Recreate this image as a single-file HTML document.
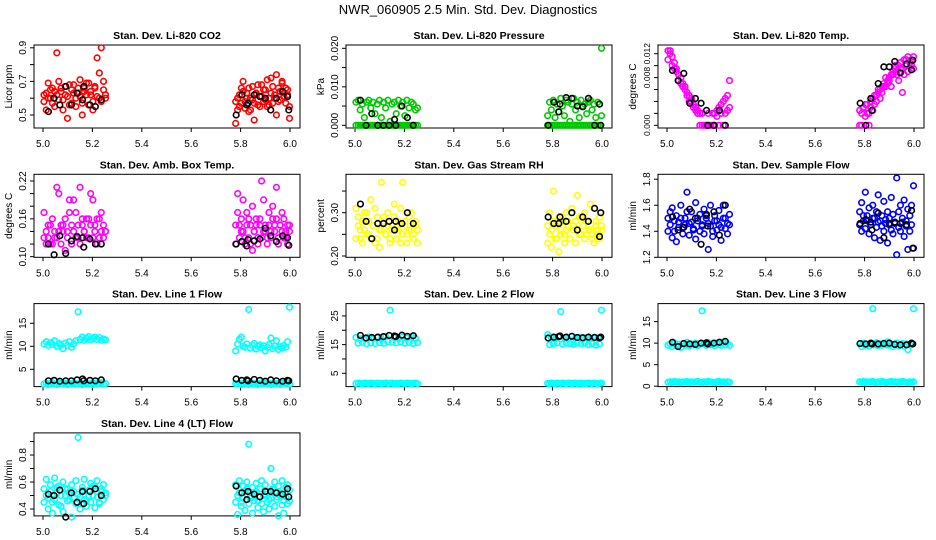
<!DOCTYPE html>
<html><head><meta charset="utf-8"><style>
html,body{margin:0;padding:0;background:#fff;}
svg{display:block;font-family:"Liberation Sans",sans-serif;}
</style></head><body>
<svg id="chart" width="936" height="540" viewBox="0 0 936 540">
<rect width="936" height="540" fill="#fff"/>
<text x="468" y="14" text-anchor="middle" font-size="13" fill="#000">NWR_060905  2.5 Min. Std. Dev. Diagnostics</text>
</svg>
<script>
// shared time axis (fractional hours) for colored series
const times = [5.004,5.013,5.021,5.030,5.038,5.047,5.056,5.064,5.073,5.081,5.090,5.099,5.107,5.116,5.124,5.133,5.142,5.150,5.159,5.167,5.176,5.185,5.193,5.202,5.210,5.219,5.228,5.236,5.245,5.253,
5.780,5.788,5.795,5.803,5.810,5.818,5.825,5.833,5.840,5.848,5.855,5.863,5.870,5.878,5.885,5.893,5.900,5.908,5.915,5.923,5.930,5.938,5.945,5.953,5.960,5.968,5.975,5.983,5.990,5.998];
const blackTimes = [5.022,5.045,5.068,5.092,5.115,5.138,5.160,5.165,5.190,5.212,5.236,
5.782,5.805,5.825,5.830,5.855,5.878,5.900,5.922,5.945,5.970,5.990,5.995];
const xTicks = [5.0,5.2,5.4,5.6,5.8,6.0];
const xTickLabels = ["5.0","5.2","5.4","5.6","5.8","6.0"];

const co2A = [0.58,0.63,0.69,0.60,0.66,0.55,0.62,0.70,0.64,0.59,0.67,0.61,0.56,0.65,0.68,0.60,0.63,0.71,0.57,0.66,0.62,0.69,0.64,0.58,0.67,0.84,0.60,0.90,0.65,0.62,
0.45,0.60,0.55,0.66,0.70,0.58,0.63,0.52,0.60,0.67,0.57,0.62,0.68,0.55,0.61,0.65,0.59,0.71,0.56,0.63,0.67,0.60,0.74,0.58,0.64,0.69,0.61,0.66,0.62,0.48];
const co2B = [0.62,0.53,0.60,0.65,0.57,0.64,0.87,0.59,0.66,0.53,0.62,0.48,0.68,0.57,0.63,0.55,0.66,0.61,0.50,0.64,0.69,0.56,0.62,0.53,0.66,0.61,0.75,0.58,0.70,0.60,
0.58,0.53,0.62,0.57,0.64,0.54,0.60,0.66,0.53,0.59,0.47,0.63,0.56,0.61,0.68,0.58,0.65,0.55,0.60,0.72,0.57,0.62,0.50,0.66,0.59,0.70,0.63,0.57,0.65,0.55];
const co2K = [0.52,0.60,0.56,0.67,0.56,0.63,0.59,0.67,0.56,0.55,0.59,0.50,0.62,0.56,0.57,0.62,0.61,0.60,0.53,0.60,0.64,0.61,0.53];

const presA = [0,0,0,0,0,0,0,0,0,0,0,0,0,0,0,0,0,0,0,0,0,0,0,0,0,0,0,0,0,0,
0,0,0,0,0,0,0,0,0,0,0,0,0,0,0,0,0,0,0,0,0,0,0,0,0,0,0,0,0,0.020];
const presB = [0.006,0.0065,0.004,0.0055,0.002,0.006,0.0065,0.0045,0.006,0.003,0.0055,0.0065,0.002,0.006,0.0045,0.0065,0.001,0.0055,0.006,0.003,0.0065,0.005,0.006,0.0025,0.0065,0.0045,0.006,0.0055,0.004,0.0045,
0.0025,0.006,0.004,0.0065,0.002,0.0055,0.0035,0.007,0.005,0.0025,0.0065,0.006,0.001,0.0055,0.007,0.004,0.006,0.002,0.0065,0.005,0.0055,0.003,0.006,0.0065,0.004,0.0055,0.002,0.006,0.0055,0.0025];
const presK = [0.0065,0,0.003,0,0,0,0.0015,0,0.005,0.002,0,0,0.006,0.0035,0.0055,0.0072,0.007,0.005,0.0048,0.007,0,0.0055,0];

const tempA = [0.0125,0.012,0.0115,0.0105,0.0095,0.0085,0.008,0.007,0.0065,0.0055,0.005,0.004,0.0035,0.003,0.0025,0.002,0,0,0,0,0,0,0.002,0.0025,0.003,0.0035,0.004,0.002,0.005,0.0075,
0,0.002,0.003,0.0035,0.002,0,0.004,0.0025,0.005,0.004,0.0055,0.006,0.0065,0.007,0.0065,0.0075,0.008,0.0085,0.009,0.0095,0.0085,0.010,0.0105,0.0095,0.011,0.010,0.0115,0.0105,0.011,0.0095];
const tempB = [0.011,0.0125,0.010,0.0095,0.009,0.0075,0.007,0.0065,0.006,0.005,0.004,0.0045,0.003,0.0025,0.002,0,0.002,0,0,0.002,0,0.002,0,0.0015,0,0.002,0,0.0045,0.0025,0.003,
0.0025,0,0.003,0.0015,0.0035,0.002,0.003,0.0045,0.0035,0.005,0.006,0.0045,0.0055,0.0065,0.008,0.007,0.0075,0.0065,0.0085,0.010,0.009,0.0075,0.0095,0.0055,0.0085,0.011,0.009,0.0105,0.010,0.0115];
const tempK = [0.0092,0.0075,0.0087,0.0037,0.0045,0.0037,0.0025,0,0,0.0025,0,0.0037,0,0.0045,0.0025,0.007,0.0098,0.0098,0.0107,0.0088,0.0103,0.0093,0.0109];

const ambA = [0.13,0.14,0.15,0.12,0.16,0.14,0.13,0.20,0.15,0.14,0.16,0.13,0.19,0.15,0.14,0.17,0.13,0.21,0.15,0.14,0.16,0.13,0.15,0.19,0.14,0.16,0.13,0.17,0.15,0.14,
0.12,0.17,0.15,0.14,0.19,0.13,0.15,0.16,0.12,0.18,0.14,0.15,0.13,0.16,0.22,0.14,0.15,0.13,0.17,0.14,0.16,0.15,0.21,0.13,0.15,0.14,0.16,0.13,0.15,0.14];
const ambB = [0.17,0.12,0.13,0.15,0.12,0.13,0.21,0.14,0.12,0.15,0.11,0.14,0.17,0.12,0.19,0.13,0.15,0.12,0.16,0.14,0.13,0.16,0.20,0.13,0.15,0.12,0.16,0.14,0.13,0.14,
0.15,0.20,0.13,0.16,0.14,0.12,0.17,0.13,0.15,0.11,0.14,0.16,0.12,0.15,0.13,0.19,0.14,0.12,0.15,0.13,0.18,0.14,0.16,0.12,0.15,0.17,0.13,0.14,0.12,0.15];
const ambK = [0.12,0.103,0.133,0.105,0.125,0.132,0.13,0.115,0.128,0.12,0.12,0.12,0.124,0.117,0.127,0.125,0.128,0.145,0.133,0.124,0.133,0.13,0.118];

const rhA = [0.31,0.27,0.24,0.28,0.26,0.30,0.25,0.33,0.27,0.23,0.29,0.26,0.37,0.28,0.25,0.30,0.24,0.27,0.32,0.26,0.28,0.23,0.37,0.27,0.25,0.29,0.26,0.24,0.28,0.26,
0.23,0.30,0.26,0.35,0.27,0.24,0.29,0.26,0.28,0.25,0.30,0.27,0.24,0.31,0.26,0.28,0.34,0.25,0.29,0.27,0.30,0.25,0.28,0.26,0.24,0.31,0.27,0.25,0.29,0.26];
const rhB = [0.24,0.29,0.26,0.23,0.30,0.25,0.28,0.24,0.27,0.31,0.24,0.22,0.26,0.29,0.25,0.27,0.23,0.26,0.29,0.24,0.26,0.31,0.25,0.28,0.23,0.26,0.30,0.25,0.27,0.23,
0.27,0.25,0.22,0.28,0.24,0.27,0.21,0.25,0.29,0.23,0.26,0.28,0.24,0.30,0.27,0.23,0.26,0.29,0.25,0.27,0.24,0.28,0.26,0.32,0.25,0.23,0.28,0.26,0.24,0.27];
const rhK = [0.32,0.28,0.24,0.275,0.275,0.28,0.26,0.28,0.275,0.30,0.275,0.29,0.275,0.275,0.29,0.28,0.30,0.26,0.29,0.28,0.31,0.245,0.30];

const sfA = [1.50,1.45,1.58,1.40,1.52,1.47,1.60,1.43,1.50,1.70,1.46,1.55,1.41,1.62,1.48,1.53,1.44,1.57,1.50,1.46,1.60,1.40,1.52,1.48,1.56,1.43,1.60,1.50,1.46,1.53,
1.55,1.62,1.48,1.70,1.52,1.58,1.45,1.60,1.50,1.55,1.68,1.48,1.52,1.63,1.46,1.55,1.50,1.66,1.53,1.47,1.81,1.55,1.60,1.50,1.64,1.48,1.57,1.52,1.60,1.75];
const sfB = [1.40,1.55,1.35,1.48,1.32,1.43,1.50,1.38,1.45,1.55,1.37,1.47,1.42,1.34,1.50,1.40,1.45,1.38,1.52,1.26,1.44,1.36,1.48,1.41,1.45,1.33,1.50,1.42,1.38,1.45,
1.45,1.40,1.52,1.42,1.48,1.38,1.45,1.50,1.35,1.43,1.47,1.33,1.44,1.40,1.49,1.31,1.45,1.41,1.38,1.46,1.22,1.43,1.40,1.47,1.36,1.44,1.26,1.40,1.45,1.27];
const sfK = [1.51,1.41,1.43,1.57,1.50,1.30,1.53,1.44,1.55,1.37,1.60,1.46,1.49,1.47,1.41,1.54,1.35,1.46,1.47,1.46,1.45,1.56,1.27];

const l1A = [10.5,11.0,10.2,10.8,10.4,11.2,10.0,10.6,10.3,9.5,10.7,10.2,11.0,9.8,10.5,11.2,17.5,11.5,12.0,11.3,11.8,12.1,11.4,11.7,12.0,11.5,11.9,11.3,11.6,11.4,
9.0,10.5,11.5,12.0,10.0,9.8,10.5,18.0,9.6,10.2,10.6,9.4,10.0,10.3,9.7,10.1,9.0,9.8,10.4,11.8,9.5,10.0,11.2,9.3,9.9,9.6,10.2,9.8,11.0,18.5];
const l1B = [1.8,2.0,1.7,1.9,2.1,1.8,1.7,2.0,1.9,1.8,2.0,1.7,1.9,1.8,2.1,1.9,1.8,2.0,1.7,1.9,2.0,1.8,1.9,1.7,2.0,1.8,1.9,2.1,1.8,1.9,
1.9,1.8,2.0,1.7,1.9,2.1,1.8,1.7,2.0,1.9,1.8,2.0,1.7,1.9,1.8,2.1,1.9,1.8,2.0,1.7,1.9,2.0,1.8,1.9,1.7,2.0,1.8,1.9,2.1,1.8];
const l1K = [2.5,2.6,2.4,2.5,2.5,2.7,2.9,2.5,2.6,2.5,2.7,2.9,2.6,2.7,2.5,2.8,2.6,2.4,2.7,2.5,2.4,2.6,2.5];

const l2A = [17.5,15.5,17.0,15.8,17.2,15.3,17.6,15.6,17.1,15.4,17.4,15.7,17.0,15.5,17.8,16.0,27.0,15.8,17.5,15.6,17.2,15.9,17.7,15.5,17.3,15.8,17.6,15.4,17.2,15.7,
18.5,15.0,17.5,15.3,17.0,15.6,17.6,26.5,15.2,17.3,15.5,17.0,15.4,17.8,15.1,17.2,15.6,17.5,15.3,17.0,15.5,17.4,15.0,17.2,15.3,17.6,14.8,17.3,15.2,27.0];
const l2B = [1.4,1.6,1.5,1.3,1.6,1.5,1.4,1.6,1.5,1.3,1.6,1.5,1.4,1.5,1.6,1.4,1.5,1.6,1.3,1.5,1.4,1.6,1.5,1.4,1.6,1.5,1.3,1.5,1.6,1.4,
1.5,1.4,1.6,1.5,1.3,1.6,1.5,1.4,1.6,1.5,1.3,1.6,1.5,1.4,1.5,1.6,1.4,1.5,1.6,1.3,1.5,1.4,1.6,1.5,1.4,1.6,1.5,1.3,1.5,1.6];
const l2K = [18.2,17.3,17.5,17.6,17.8,18.2,18.0,17.8,18.3,17.9,18.1,17.3,17.6,17.8,18.0,17.6,17.9,17.5,17.4,17.6,17.5,17.3,17.6];

const l3A = [9.5,9.8,9.2,10.0,9.4,9.7,9.0,9.9,9.5,10.2,9.3,9.8,9.6,10.0,9.4,9.7,17.5,9.9,9.5,10.1,9.6,9.8,9.4,10.0,9.7,9.5,10.2,9.6,9.9,9.5,
9.8,9.2,10.0,9.5,9.7,9.3,9.9,18.0,9.6,10.1,9.4,9.8,9.5,10.0,9.6,10.3,9.5,9.8,9.2,9.7,10.0,9.4,9.6,9.9,9.3,9.8,8.5,9.6,9.9,18.0];
const l3B = [0.9,1.0,0.8,1.1,0.9,1.0,0.8,1.0,0.9,1.1,0.8,1.0,0.9,1.0,1.1,0.9,0.8,1.0,0.9,1.1,1.0,0.9,0.8,1.0,1.1,0.9,1.0,0.8,1.0,0.9,
1.0,0.9,1.1,0.8,1.0,0.9,1.0,1.1,0.9,0.8,1.0,0.9,1.1,1.0,0.8,0.9,1.0,1.1,0.9,1.0,0.8,1.0,0.9,1.1,1.0,0.9,0.8,1.0,0.9,1.0];
const l3K = [10.2,9.2,9.9,9.8,9.7,10.0,10.1,9.8,10.0,10.2,10.4,9.9,9.8,10.0,9.8,9.8,9.9,10.0,9.7,9.6,9.6,10.0,9.8];

const l4A = [0.55,0.62,0.48,0.58,0.45,0.63,0.52,0.57,0.42,0.60,0.50,0.55,0.47,0.58,0.53,0.61,0.93,0.49,0.56,0.62,0.46,0.54,0.59,0.50,0.57,0.61,0.45,0.55,0.58,0.52,
0.58,0.50,0.61,0.45,0.57,0.53,0.60,0.88,0.48,0.56,0.52,0.59,0.46,0.55,0.61,0.50,0.58,0.53,0.47,0.70,0.55,0.60,0.49,0.57,0.52,0.61,0.46,0.56,0.58,0.54];
const l4B = [0.45,0.50,0.40,0.53,0.37,0.47,0.56,0.43,0.50,0.38,0.55,0.46,0.52,0.34,0.48,0.44,0.51,0.40,0.54,0.47,0.42,0.50,0.45,0.57,0.41,0.49,0.44,0.53,0.47,0.50,
0.45,0.36,0.52,0.42,0.48,0.39,0.55,0.44,0.50,0.37,0.46,0.53,0.41,0.49,0.44,0.38,0.51,0.45,0.40,0.48,0.54,0.42,0.47,0.35,0.50,0.43,0.37,0.49,0.44,0.46];
const l4K = [0.51,0.50,0.54,0.34,0.52,0.45,0.53,0.44,0.53,0.55,0.50,0.57,0.52,0.47,0.53,0.51,0.49,0.53,0.53,0.52,0.51,0.55,0.49];

const panels = [
 {key:"co2",title:"Stan. Dev. Li-820 CO2",ylab:"Licor ppm",color:"#ff0000",dom:[0.4226,0.9167],ticks:[0.5,0.6,0.7,0.8,0.9],labels:["0.5","","0.7","","0.9"],a:co2A,b:co2B,k:co2K},
 {key:"pressure",title:"Stan. Dev. Li-820 Pressure",ylab:"kPa",color:"#00c800",dom:[-0.0007,0.02086],ticks:[0,0.005,0.01,0.015,0.02],labels:["0.000","","0.010","","0.020"],a:presA,b:presB,k:presK},
 {key:"temp",title:"Stan. Dev. Li-820 Temp.",ylab:"degrees C",color:"#ff00ff",dom:[-0.00045,0.01346],ticks:[0,0.002,0.004,0.006,0.008,0.010,0.012],labels:["0.000","","","","0.008","","0.012"],fs:8.5,a:tempA,b:tempB,k:tempK},
 {key:"amb-box-temp",title:"Stan. Dev. Amb. Box Temp.",ylab:"degrees C",color:"#ff00ff",dom:[0.099,0.2306],ticks:[0.10,0.12,0.14,0.16,0.18,0.20,0.22],labels:["0.10","","","0.16","","","0.22"],a:ambA,b:ambB,k:ambK},
 {key:"gas-rh",title:"Stan. Dev. Gas Stream RH",ylab:"percent",color:"#ffff00",dom:[0.197,0.3887],ticks:[0.20,0.25,0.30,0.35],labels:["0.20","","0.30",""],a:rhA,b:rhB,k:rhK},
 {key:"sample-flow",title:"Stan. Dev. Sample Flow",ylab:"ml/min",color:"#0000ff",dom:[1.2,1.838],ticks:[1.2,1.4,1.6,1.8],labels:["1.2","1.4","1.6","1.8"],a:sfA,b:sfB,k:sfK},
 {key:"line1",title:"Stan. Dev. Line 1 Flow",ylab:"ml/min",color:"#00ffff",dom:[1.24,19.28],ticks:[5,10,15],labels:["5","10","15"],a:l1A,b:l1B,k:l1K},
 {key:"line2",title:"Stan. Dev. Line 2 Flow",ylab:"ml/min",color:"#00ffff",dom:[0.36,29.3],ticks:[5,10,15,20,25],labels:["5","","15","","25"],a:l2A,b:l2B,k:l2K},
 {key:"line3",title:"Stan. Dev. Line 3 Flow",ylab:"ml/min",color:"#00ffff",dom:[-0.1,19.18],ticks:[0,5,10,15],labels:["0","5","10","15"],a:l3A,b:l3B,k:l3K},
 {key:"line4",title:"Stan. Dev. Line 4 (LT) Flow",ylab:"ml/min",color:"#00ffff",dom:[0.349,0.964],ticks:[0.4,0.5,0.6,0.7,0.8,0.9],labels:["0.4","","0.6","","0.8",""],a:l4A,b:l4B,k:l4K}
];

const NS = "http://www.w3.org/2000/svg";
const svg = document.getElementById("chart");
function mk(tag, attrs, parent){
  const e = document.createElementNS(NS, tag);
  for (const k in attrs) e.setAttribute(k, attrs[k]);
  (parent||svg).appendChild(e);
  return e;
}

panels.forEach((p, i) => {
  const col = i % 3, row = Math.floor(i / 3);
  const left = 34 + 312*col, right = 300 + 312*col;
  const top = 45 + 129.3*row, bot = top + 83;
  const xs = t => 43 + 312*col + (t - 5.0) * 247;
  const ys = v => bot - (v - p.dom[0]) / (p.dom[1] - p.dom[0]) * (bot - top);

  const g = mk("g", {});
  
  

  const title = mk("text", {x:(left+right)/2, y:top-6, "text-anchor":"middle", "font-size":"10.5", "font-weight":"bold"}, g);
  title.textContent = p.title;
  
  

  const frame = mk("rect", {x:left, y:top, width:right-left, height:bot-top, fill:"none", stroke:"#000", "stroke-width":"1"}, g);
  
  

  const xg = mk("g", {}, g);
  
  
  xTicks.forEach((t, j) => {
    const x = xs(t);
    mk("line", {x1:x, x2:x, y1:bot, y2:bot+4, stroke:"#000"}, xg);
    const lb = mk("text", {x:x, y:bot+19, "text-anchor":"middle", "font-size":"10"}, xg);
    lb.textContent = xTickLabels[j];
    
    
  });

  const yg = mk("g", {}, g);
  
  
  p.ticks.forEach((v, j) => {
    const y = ys(v);
    mk("line", {x1:left-4, x2:left, y1:y, y2:y, stroke:"#000"}, yg);
    if (p.labels[j]) {
      const lb = mk("text", {x:left-8, y:y, "text-anchor":"middle", "font-size":String(p.fs||10), transform:`rotate(-90 ${left-8} ${y})`}, yg);
      lb.textContent = p.labels[j];
      
      
    }
  });
  const yt = mk("text", {x:left-22, y:(top+bot)/2, "text-anchor":"middle", "font-size":"10", transform:`rotate(-90 ${left-22} ${(top+bot)/2})`}, g);
  yt.textContent = p.ylab;
  
  

  const pg = mk("g", {fill:"none", "stroke-width":"1.6"}, g);
  
  
  [p.a, p.b].forEach(arr => {
    arr.forEach((v, j) => {
      const c = mk("circle", {cx:xs(times[j]), cy:ys(v), r:2.8, stroke:p.color}, pg);
      
      
    });
  });
  p.k.forEach((v, j) => {
    const c = mk("circle", {cx:xs(blackTimes[j]), cy:ys(v), r:2.8, stroke:"#000"}, pg);
    
    
  });
});
</script>
</body></html>
